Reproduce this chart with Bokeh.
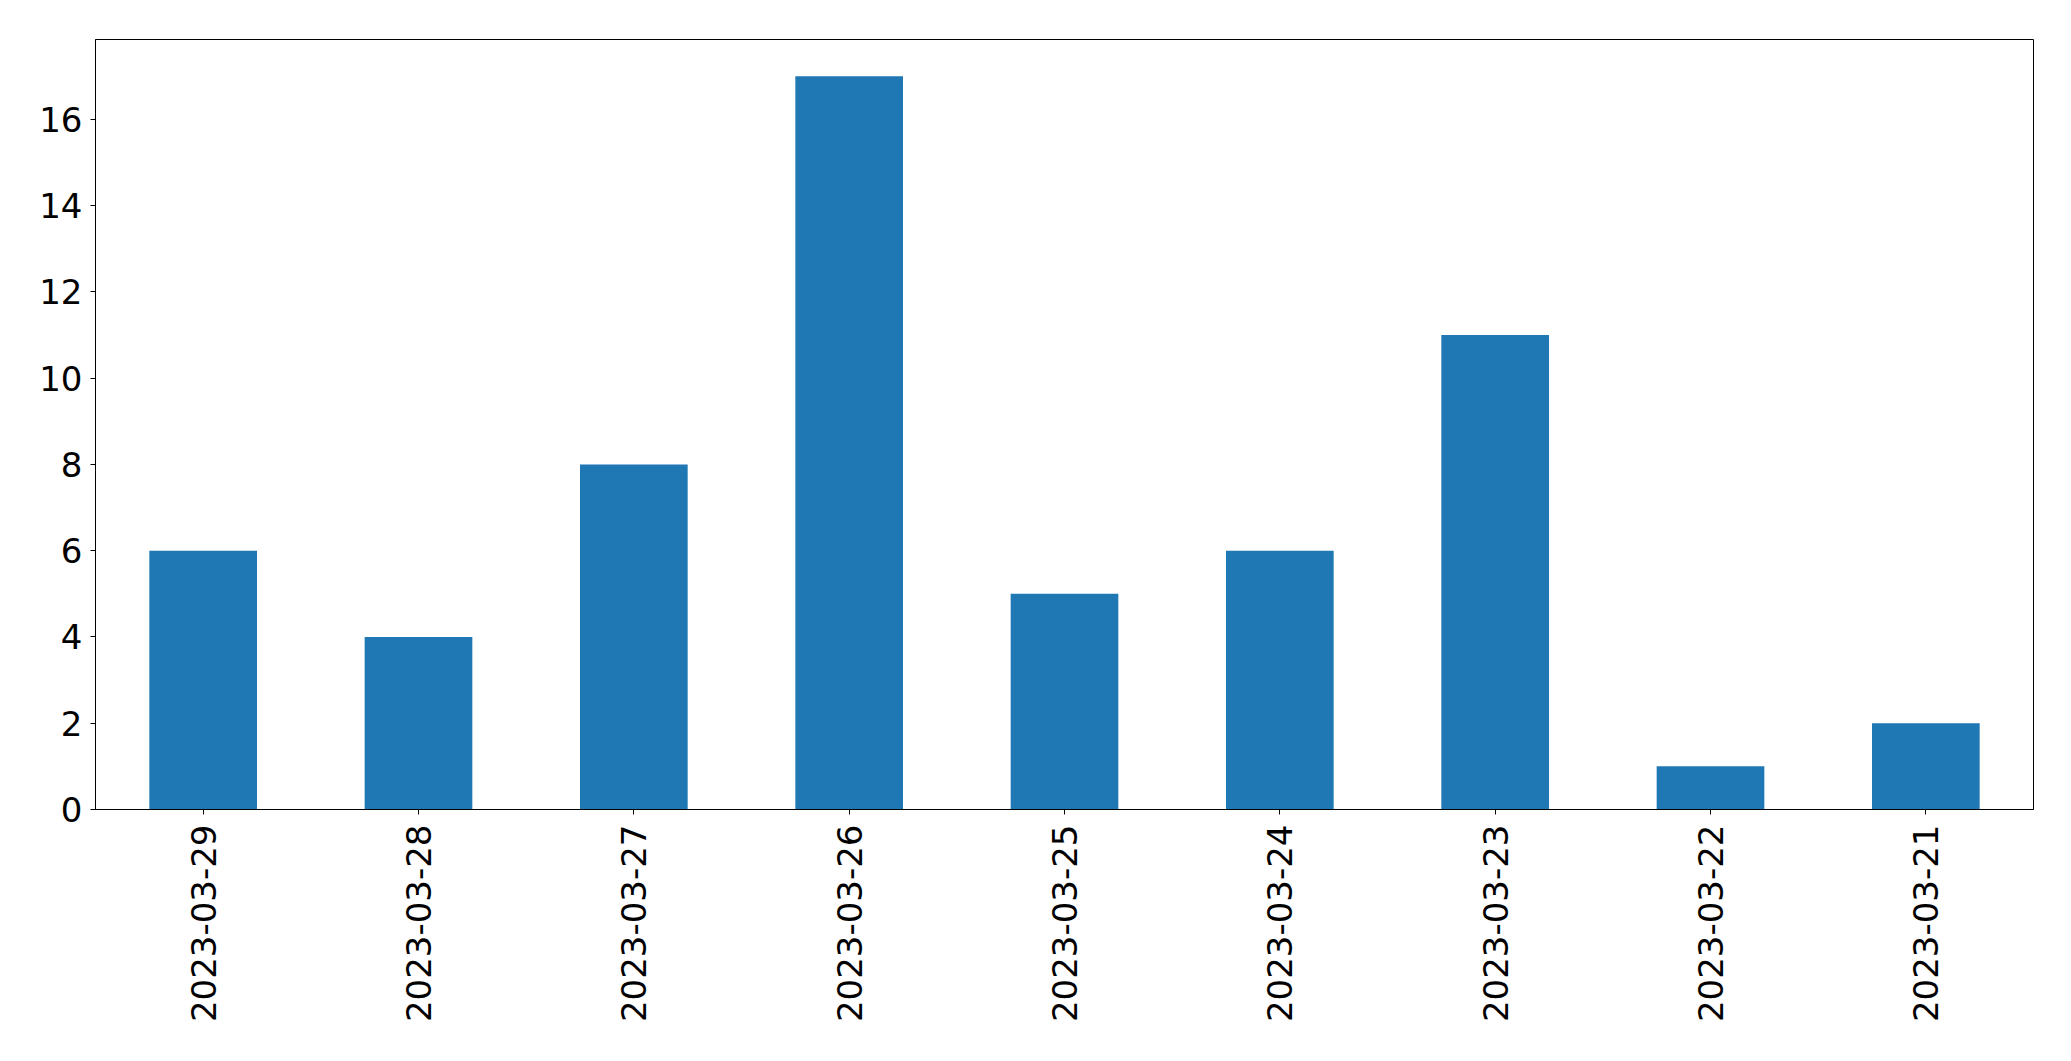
import math
from bokeh.plotting import figure
from bokeh.models import ColumnDataSource, Range1d
from bokeh.embed import file_html
from bokeh.resources import INLINE

dates = ["2023-03-29", "2023-03-28", "2023-03-27", "2023-03-26", "2023-03-25",
         "2023-03-24", "2023-03-23", "2023-03-22", "2023-03-21"]
counts = [6, 4, 8, 17, 5, 6, 11, 1, 2]
y_ticks = [0, 2, 4, 6, 8, 10, 12, 14, 16]

src = ColumnDataSource(dict(date=dates, count=counts))

p = figure(x_range=dates, y_range=Range1d(0, 17.85),
           frame_width=1938, frame_height=770,
           output_backend="svg", toolbar_location=None)
p.min_border_left = 95
p.min_border_top = 39
p.min_border_right = 30
p.min_border_bottom = 20
p.x_range.range_padding = 0.0
p.x_range.factor_padding = 0.0

p.vbar(x="date", top="count", width=0.5, source=src,
       fill_color="#1f77b4", line_color=None)

p.xgrid.visible = False
p.ygrid.visible = False
p.outline_line_color = "black"
p.outline_line_width = 1
p.outline_line_alpha = 1.0
p.background_fill_color = "white"
p.border_fill_color = "white"

p.yaxis.ticker = y_ticks
for ax in (p.xaxis[0], p.yaxis[0]):
    ax.axis_line_color = "black"
    ax.major_tick_line_color = "black"
    ax.major_tick_out = 5
    ax.major_tick_in = 0
    ax.minor_tick_line_color = None
    ax.major_label_text_font = "DejaVu Sans"
    ax.major_label_text_font_size = "34px"
    ax.major_label_text_color = "black"

p.yaxis.major_label_standoff = 8
p.xaxis.major_label_standoff = 10
p.xaxis.major_label_orientation = math.pi / 2

open("out.html", "w").write(file_html(p, INLINE))
